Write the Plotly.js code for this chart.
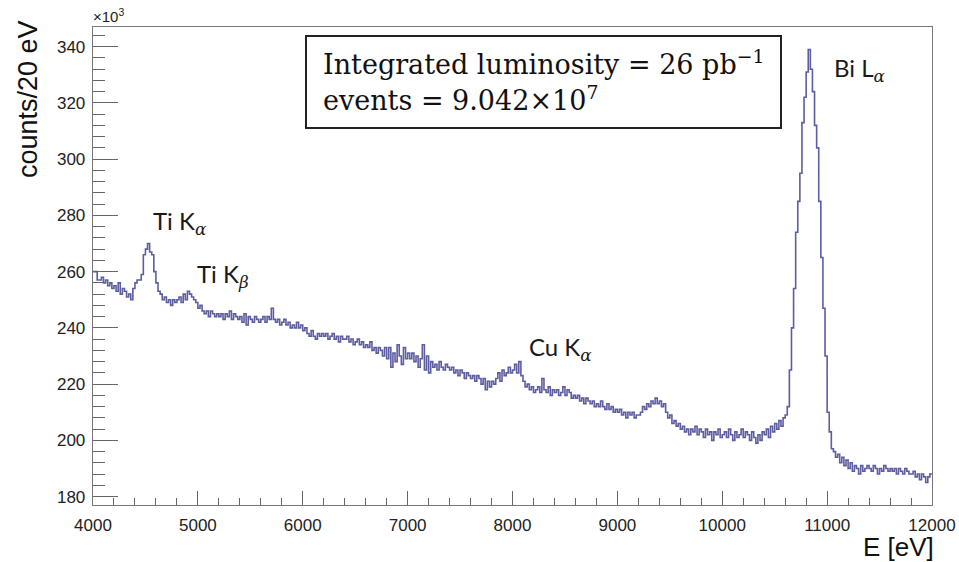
<!DOCTYPE html>
<html>
<head>
<meta charset="utf-8">
<script src="https://cdn.plot.ly/plotly-3.0.1.min.js"></script>
<style>
  html, body { margin: 0; padding: 0; background: #fff; }
  #chart { width: 959px; height: 562px; }
</style>
</head>
<body>
<div id="chart"></div>
<script>
// Energy spectrum: 20 eV bins from 4000 to 12000 eV, counts in units of 10^3
const binStart = 4000;
const binWidth = 20;

const counts = [
  260, 260, 257, 257, 258, 256, 257, 255, 256, 254,   // 4000
  255, 253, 256, 252, 254, 253, 251, 252, 250, 254,   // 4200
  256, 257, 257, 259, 266, 268, 270, 267, 266, 260,   // 4400
  256, 253, 252, 250, 251, 249, 250, 248, 250, 249,   // 4600
  250, 251, 249, 252, 250, 253, 252, 251, 250, 249,   // 4800
  247, 248, 246, 245, 246, 244, 246, 245, 244, 245,   // 5000
  244, 245, 243, 245, 244, 246, 243, 245, 244, 243,   // 5200
  244, 242, 245, 241, 244, 243, 242, 244, 243, 242,   // 5400
  243, 244, 242, 244, 243, 247, 243, 242, 243, 241,   // 5600
  242, 243, 241, 242, 240, 241, 240, 242, 240, 241,   // 5800
  239, 240, 238, 237, 239, 237, 236, 238, 237, 238,   // 6000
  237, 238, 236, 237, 238, 236, 237, 235, 237, 236,   // 6200
  236, 237, 235, 236, 234, 235, 236, 234, 235, 233,   // 6400
  234, 233, 235, 232, 233, 231, 233, 232, 230, 233,   // 6600
  229, 233, 226, 231, 228, 234, 230, 227, 233, 229,   // 6800
  231, 229, 231, 228, 230, 226, 229, 234, 225, 230,   // 7000
  224, 228, 226, 227, 225, 228, 226, 225, 227, 226,   // 7200
  225, 226, 224, 225, 223, 225, 224, 222, 224, 223,   // 7400
  222, 223, 221, 223, 222, 220, 222, 218, 221, 219,   // 7600
  221, 220, 222, 224, 221, 225, 223, 224, 226, 224,   // 7800
  225, 227, 224, 228, 223, 221, 219, 220, 218, 219,   // 8000
  217, 218, 219, 217, 222, 218, 217, 219, 216, 218,   // 8200
  217, 218, 216, 217, 219, 216, 218, 217, 215, 216,   // 8400
  215, 216, 214, 215, 213, 215, 214, 213, 214, 212,   // 8600
  213, 212, 214, 212, 211, 213, 211, 212, 210, 211,   // 8800
  210, 211, 209, 210, 208, 210, 209, 210, 208, 209,   // 9000
  209, 210, 212, 211, 213, 212, 214, 213, 215, 213,   // 9200
  214, 212, 213, 210, 208, 209, 206, 207, 205, 206,   // 9400
  204, 205, 203, 204, 202, 204, 203, 205, 202, 204,   // 9600
  203, 201, 204, 202, 203, 200, 203, 202, 204, 201,   // 9800
  202, 203, 201, 204, 202, 200, 203, 201, 202, 204,   // 10000
  201, 203, 202, 200, 203, 201, 199, 202, 200, 203,   // 10200
  202, 204, 201, 205, 203, 206, 204, 207, 205, 208,   // 10400
  209, 212, 225, 240, 254, 274, 285, 295, 313, 322,   // 10600
  331, 339, 332, 324, 312, 304, 285, 265, 247, 230,   // 10800
  210, 203, 197, 196, 194, 195, 192, 194, 191, 193,   // 11000
  190, 192, 189, 191, 190, 188, 191, 189, 190, 191,   // 11200
  190, 189, 191, 190, 188, 190, 189, 191, 190, 189,   // 11400
  190, 189, 190, 188, 190, 189, 188, 190, 189, 188,   // 11600
  188, 189, 187, 188, 186, 188, 187, 185, 187, 188    // 11800
];

// Peak labels: text, position (E, counts)
const peakLabels = ["Ti K", "Ti K", "Cu K", "Bi L"];
const peakSubs   = ["α", "β", "α", "α"];
const peakE      = [4553, 4973, 8138, 11046];
const peakY      = [277.5, 258.5, 232.8, 332];

const infoLines = [
  "Integrated luminosity = 26 pb<sup>−1</sup>",
  "events = 9.042×10<sup>7</sup>"
];

// Step histogram: each bin drawn from its lower edge, closed at the upper edge
const xs = counts.map((_, i) => binStart + i * binWidth);
const ys = counts.slice();
xs.push(binStart + counts.length * binWidth);
ys.push(counts[counts.length - 1]);

const trace = {
  x: xs,
  y: ys,
  type: "scatter",
  mode: "lines",
  line: { shape: "hv", color: "#5d5da2", width: 1.6 },
  hoverinfo: "x+y"
};

const tickFont = { family: "Liberation Sans, Arial, sans-serif", size: 17, color: "#222" };

const annotations = [];
peakLabels.forEach((t, i) => {
  annotations.push({
    x: peakE[i], y: peakY[i], xref: "x", yref: "y",
    xanchor: "left", yanchor: "middle", showarrow: false,
    text: t + "<sub><span style=\"font-family:'DejaVu Serif'\"><i>" + peakSubs[i] + "</i></span></sub>",
    font: { family: "Lato, 'Open Sans', sans-serif", size: 24, color: "#1a1a1a" }
  });
});

// Info box lines
const infoY = [62, 99];
infoLines.forEach((t, i) => {
  annotations.push({
    x: (321 - 93) / 839, y: (505 - infoY[i]) / 478, xref: "paper", yref: "paper",
    xanchor: "left", yanchor: "middle", showarrow: false, align: "left",
    text: t,
    font: { family: "DejaVu Serif, Liberation Serif, serif", size: 27, color: "#111" }
  });
});

// Axis titles and exponent label
annotations.push({
  x: (28 - 93) / 839, y: 1 + (27 - 18) / 478, xref: "paper", yref: "paper",
  xanchor: "center", yanchor: "top", textangle: -90, showarrow: false,
  text: "counts/20 eV",
  font: { family: "Liberation Sans, Arial, sans-serif", size: 27, color: "#111" }
});
annotations.push({
  x: (936 - 93) / 839, y: (505 - 547) / 478, xref: "paper", yref: "paper",
  xanchor: "right", yanchor: "middle", showarrow: false,
  text: "E [eV]",
  font: { family: "Liberation Sans, Arial, sans-serif", size: 26, color: "#111" }
});
annotations.push({
  x: -0.002, y: 1, xref: "paper", yref: "paper",
  xanchor: "left", yanchor: "bottom", showarrow: false,
  text: "×10<sup>3</sup>",
  font: { family: "Liberation Sans, Arial, sans-serif", size: 15, color: "#222" }
});

const layout = {
  width: 959,
  height: 562,
  margin: { l: 93, r: 27, t: 27, b: 57 },
  paper_bgcolor: "#ffffff",
  plot_bgcolor: "#ffffff",
  showlegend: false,
  xaxis: {
    range: [4000, 12000],
    dtick: 1000, tick0: 4000, tickformat: "d",
    ticks: "inside", ticklen: 14, tickwidth: 1, tickcolor: "#666",
    minor: { dtick: 200, ticks: "inside", ticklen: 7, tickcolor: "#666", tickwidth: 1 },
    showline: true, linecolor: "#777", linewidth: 1.3, mirror: true,
    showgrid: false, zeroline: false,
    tickfont: tickFont, ticklabelstandoff: 4
  },
  yaxis: {
    range: [177, 347],
    dtick: 20, tick0: 180, tickformat: "d",
    ticks: "inside", ticklen: 25, tickwidth: 1, tickcolor: "#666",
    minor: { dtick: 4, ticks: "inside", ticklen: 12, tickcolor: "#666", tickwidth: 1 },
    showline: true, linecolor: "#777", linewidth: 1.3, mirror: true,
    showgrid: false, zeroline: false,
    tickfont: tickFont, ticklabelstandoff: 3
  },
  shapes: [{
    type: "rect", xref: "paper", yref: "paper",
    x0: (306 - 93) / 839, x1: (781 - 93) / 839,
    y0: (505 - 128) / 478, y1: (505 - 36) / 478,
    line: { color: "#222", width: 2 }, fillcolor: "rgba(255,255,255,0)"
  }],
  annotations: annotations
};

Plotly.newPlot("chart", [trace], layout, { displayModeBar: false, staticPlot: true });
</script>
</body>
</html>
